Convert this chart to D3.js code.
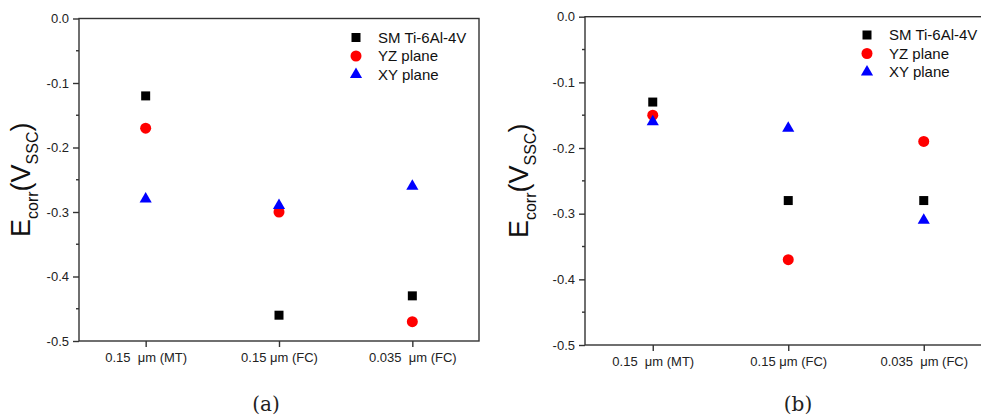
<!DOCTYPE html>
<html>
<head>
<meta charset="utf-8">
<script src="https://cdn.jsdelivr.net/npm/d3@7"></script>
<style>
    body { margin: 0; background: #fff; }
    text { font-family: "Liberation Sans", Arial, sans-serif; }
    text.caption { font-family: "DejaVu Serif", serif; }
</style>
</head>
<body>
<svg id="fig" width="981" height="419"></svg>
<script>
// --------- DATA ---------

const categories = ["0.15  \u03bcm (MT)", "0.15 \u03bcm (FC)", "0.035  \u03bcm (FC)"];
const seriesNames = ["SM Ti-6Al-4V", "YZ plane", "XY plane"];
const yTicks = [0, -0.1, -0.2, -0.3, -0.4, -0.5];
const yMinorTicks = [-0.05, -0.15, -0.25, -0.35, -0.45];

// panel (a)
const smA = [-0.12, -0.46, -0.43];
const yzA = [-0.17, -0.30, -0.47];
const xyA = [-0.28, -0.29, -0.26];

// panel (b)
const smB = [-0.13, -0.28, -0.28];
const yzB = [-0.15, -0.37, -0.19];
const xyB = [-0.16, -0.17, -0.31];

// --------- DRAWING ---------

const styles = [
    {type: d3.symbolSquare, size: 81, color: "#000000"},
    {type: d3.symbolCircle, size: 95, color: "#ff0000"},
    {type: d3.symbolTriangle, size: 64, color: "#0000ff"}
];

function panel(cfg, series, caption) {
    let svg = d3.select("#fig");
    let g = svg.append("g");

    let xScale = d3.scalePoint()
        .domain(categories)
        .range([cfg.left, cfg.right])
        .padding(0.5);

    let yScale = d3.scaleLinear()
        .domain([-0.5, 0])
        .range([cfg.bottom, cfg.top]);

    // frame
    g.append("rect")
        .attr("x", cfg.left)
        .attr("y", cfg.top)
        .attr("width", cfg.right - cfg.left)
        .attr("height", cfg.bottom - cfg.top)
        .attr("fill", "none")
        .attr("stroke", "#333")
        .attr("stroke-width", 1.4);

    // y axis
    let yAxis = d3.axisLeft(yScale)
        .tickValues(yTicks)
        .tickFormat(d => d.toFixed(1))
        .tickSizeInner(6)
        .tickSizeOuter(0)
        .tickPadding(4);

    let ya = g.append("g")
        .attr("transform", "translate(" + cfg.left + ",0)")
        .call(yAxis);
    ya.select(".domain").remove();
    ya.selectAll("line").attr("stroke", "#333").attr("stroke-width", 1.4);
    ya.selectAll("text").attr("font-size", 13).attr("fill", "#222");

    g.selectAll(".minor")
        .data(yMinorTicks)
        .enter().append("line")
        .attr("x1", cfg.left - 3)
        .attr("x2", cfg.left)
        .attr("y1", d => yScale(d))
        .attr("y2", d => yScale(d))
        .attr("stroke", "#333")
        .attr("stroke-width", 1.4);

    // x axis
    let xAxis = d3.axisBottom(xScale)
        .tickSizeInner(6)
        .tickSizeOuter(0)
        .tickPadding(6);

    let xa = g.append("g")
        .attr("transform", "translate(0," + cfg.bottom + ")")
        .call(xAxis);
    xa.select(".domain").remove();
    xa.selectAll("line").attr("stroke", "#333").attr("stroke-width", 1.4);
    xa.selectAll("text").attr("font-size", 13).attr("fill", "#222")
        .style("white-space", "pre");

    // y title: E_corr(V_SSC)
    let title = g.append("text")
        .attr("transform", "translate(" + cfg.titleX + "," + ((cfg.top + cfg.bottom) / 2) + ") rotate(-90)")
        .attr("text-anchor", "middle")
        .attr("font-size", 27)
        .attr("fill", "#111");
    title.append("tspan").text("E");
    title.append("tspan").attr("font-size", 16).attr("dy", 8).text("corr");
    title.append("tspan").attr("dy", -8).text("(V");
    title.append("tspan").attr("font-size", 16).attr("dy", 8).text("SSC");
    title.append("tspan").attr("dy", -8).text(")");

    // points
    series.forEach((vals, i) => {
        g.selectAll(".pt" + i)
            .data(vals)
            .enter().append("path")
            .attr("d", d3.symbol().type(styles[i].type).size(styles[i].size))
            .attr("transform", (d, j) => "translate(" + xScale(categories[j]) + "," + yScale(d) + ")")
            .attr("fill", styles[i].color);
    });

    // legend
    seriesNames.forEach((name, i) => {
        let yy = cfg.legendY + i * 18.5;
        g.append("path")
            .attr("d", d3.symbol().type(styles[i].type).size(styles[i].size))
            .attr("transform", "translate(" + cfg.legendX + "," + yy + ")")
            .attr("fill", styles[i].color);
        g.append("text")
            .attr("x", cfg.legendX + 22)
            .attr("y", yy)
            .attr("dy", "0.35em")
            .attr("font-size", 15)
            .attr("fill", "#111")
            .text(name);
    });

    // caption
    g.append("text")
        .attr("class", "caption")
        .attr("x", cfg.captionX)
        .attr("y", 404)
        .attr("dy", "0.35em")
        .attr("text-anchor", "middle")
        .attr("font-size", 20)
        .attr("fill", "#222")
        .text(caption);
}

panel({left: 79, right: 479, top: 18.5, bottom: 341, titleX: 30,
       legendX: 356, legendY: 37.5, captionX: 266},
      [smA, yzA, xyA], "(a)");

panel({left: 585, right: 991.5, top: 16.7, bottom: 345, titleX: 528,
       legendX: 867, legendY: 35, captionX: 798},
      [smB, yzB, xyB], "(b)");
</script>
</body>
</html>
